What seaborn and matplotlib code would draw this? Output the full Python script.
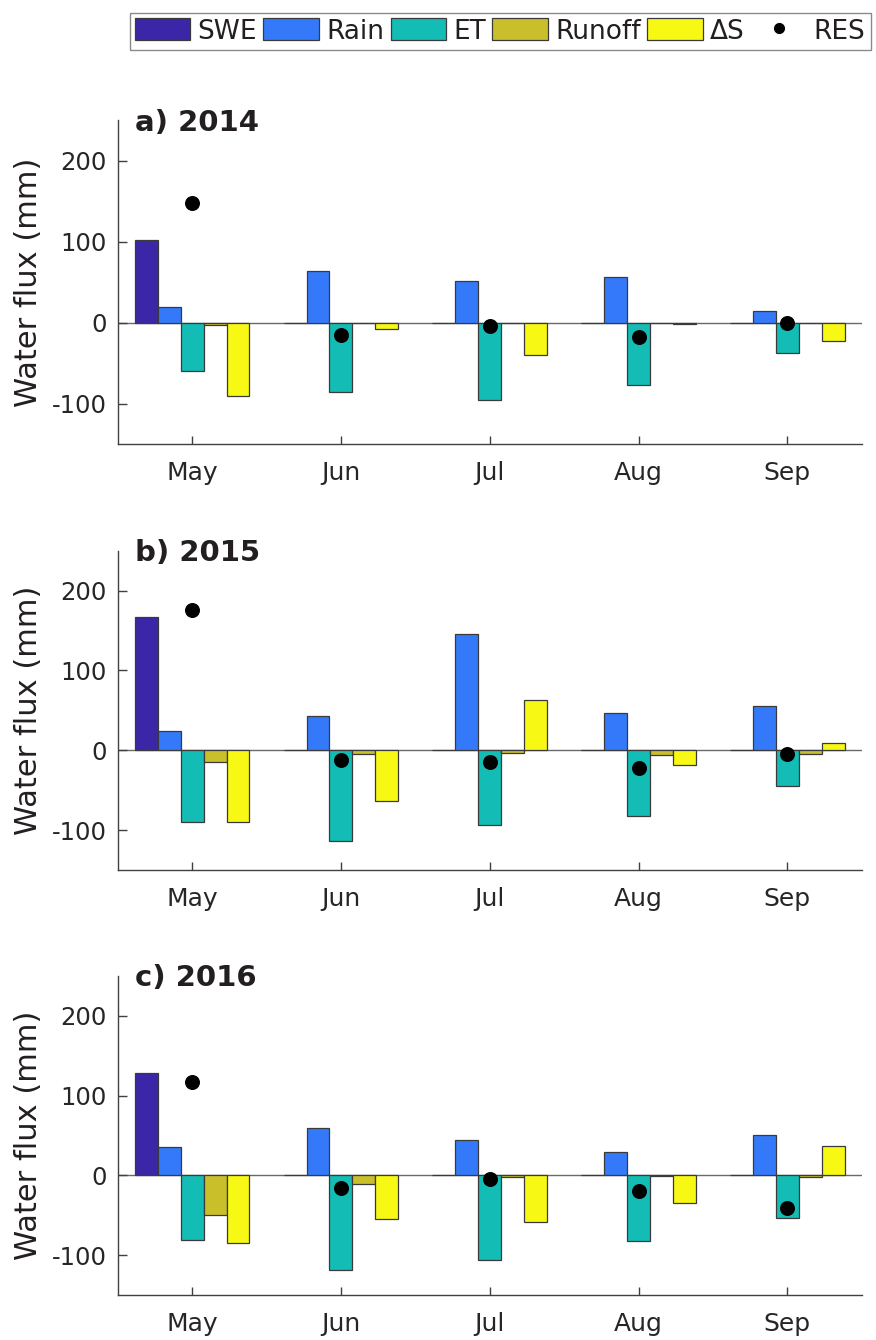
import numpy as np
import pandas as pd
import matplotlib
matplotlib.use("Agg")
import matplotlib.pyplot as plt
from matplotlib.patches import Patch
from matplotlib.lines import Line2D
import seaborn as sns

# ---- data -------------------------------------------------------------
months = ["May", "Jun", "Jul", "Aug", "Sep"]
components = ["SWE", "Rain", "ET", "Runoff", "ΔS"]
years = ["2014", "2015", "2016"]
panel_tags = ["a)", "b)", "c)"]

swe_2014 = [102, 0, 0, 0, 0]
rain_2014 = [20, 64, 51, 57, 14]
et_2014 = [-60, -86, -95, -77, -37]
runoff_2014 = [-3, 0, 0, 0, 0]
ds_2014 = [-90, -8, -40, -2, -22]
res_2014 = [148, -15, -4.5, -18, -0.5]

swe_2015 = [167, 0, 0, 0, 0]
rain_2015 = [24, 43, 146, 47, 55]
et_2015 = [-90, -114, -94, -82, -45]
runoff_2015 = [-15, -4, -3, -6, -5]
ds_2015 = [-90, -64, 63, -19, 9]
res_2015 = [176, -12, -15, -22, -5]

swe_2016 = [128, 0, 0, 0, 0]
rain_2016 = [36, 60, 45, 29, 51]
et_2016 = [-81, -118, -106, -82, -53]
runoff_2016 = [-50, -11, -2, -1, -2]
ds_2016 = [-85, -54, -58, -35, 37]
res_2016 = [117, -16, -5, -19, -41]

yticks = [-100, 0, 100, 200]

palette = {
    "SWE": "#3C26A8",
    "Rain": "#3479F9",
    "ET": "#13BCB4",
    "Runoff": "#C9BF2A",
    "ΔS": "#F7F814",
}

year_series = {
    "2014": (swe_2014, rain_2014, et_2014, runoff_2014, ds_2014, res_2014),
    "2015": (swe_2015, rain_2015, et_2015, runoff_2015, ds_2015, res_2015),
    "2016": (swe_2016, rain_2016, et_2016, runoff_2016, ds_2016, res_2016),
}

# ---- style --------------------------------------------------------------
sns.set_style("ticks")
plt.rcParams["font.family"] = ["DejaVu Sans"]
plt.rcParams["axes.unicode_minus"] = False
text_dark = "#231F20"
axis_col = "#404040"

fig = plt.figure(figsize=(8.76, 13.4), dpi=100)

# axes rectangles (left, bottom, width, height) in figure fractions
rects = [
    (0.1344, 0.6684, 0.8493, 0.2420),
    (0.1344, 0.3507, 0.8493, 0.2383),
    (0.1344, 0.0334, 0.8493, 0.2383),
]

for tag, year, rect in zip(panel_tags, years, rects):
    swe, rain, et, runoff, ds, res = year_series[year]
    rows = []
    for comp, vals in zip(components, (swe, rain, et, runoff, ds)):
        for m, v in zip(months, vals):
            rows.append({"month": m, "component": comp, "flux": v})
    df = pd.DataFrame(rows)

    ax = fig.add_axes(rect)
    ax.axhline(0, color="#6a6a6a", lw=1.0, zorder=0.5)
    sns.barplot(
        data=df, x="month", y="flux", hue="component",
        order=months, hue_order=components, palette=palette,
        width=0.77, saturation=1, errorbar=None, legend=False,
        edgecolor="#3a3a3a", linewidth=0.9, ax=ax, zorder=2,
    )
    sns.stripplot(
        x=months, y=res, order=months, jitter=False, color="black",
        size=10.8, linewidth=0, ax=ax, zorder=5,
    )

    ax.set_xlim(-0.5, len(months) - 0.5)
    ax.set_ylim(-150, 250)
    ax.set_yticks(yticks)
    ax.set_yticklabels([str(t) for t in yticks])
    ax.set_xlabel("")
    ax.set_ylabel("Water flux (mm)", fontsize=22, color=text_dark)
    ax.yaxis.set_label_coords(-0.100, 0.5)

    for side in ("top", "right"):
        ax.spines[side].set_visible(False)
    for side in ("left", "bottom"):
        ax.spines[side].set_color(axis_col)
        ax.spines[side].set_linewidth(1.0)

    ax.tick_params(axis="y", direction="in", length=6.5, width=1.0,
                   colors=axis_col, labelcolor="#262626", labelsize=17.5, pad=8)
    ax.tick_params(axis="x", direction="in", length=5.5, width=1.0,
                   colors=axis_col, labelcolor="#262626", labelsize=18, pad=12)

    ax.text(0.0233, 0.967, f"{tag} {year}", transform=ax.transAxes,
            ha="left", va="baseline", fontsize=21, fontweight="bold",
            color=text_dark)

# ---- legend ------------------------------------------------------------
handles = [Patch(facecolor=palette[c], edgecolor="#3a3a3a", linewidth=0.9)
           for c in components]
handles.append(Line2D([], [], linestyle="none", marker="o",
                      markersize=7, color="black"))
labels = components + ["RES"]
leg = fig.legend(
    handles, labels, loc="center", bbox_to_anchor=(0.571, 0.9765),
    ncol=6, fontsize=19, frameon=True, fancybox=False,
    handlelength=2.1, handleheight=0.9, handletextpad=0.27,
    columnspacing=0.25, borderpad=0.2, borderaxespad=0,
)
leg.get_frame().set_edgecolor("#8a8a8a")
leg.get_frame().set_linewidth(1.0)
leg.get_frame().set_facecolor("white")
leg.get_frame().set_alpha(1)
for t in leg.get_texts():
    t.set_color(text_dark)

fig.savefig("out.png", dpi=100, facecolor="white")
